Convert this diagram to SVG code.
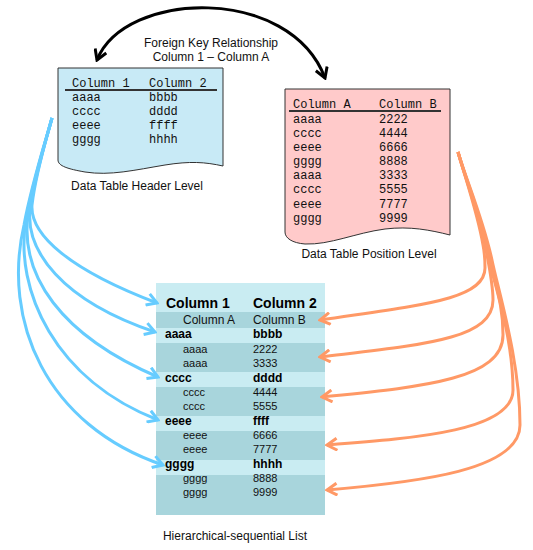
<svg xmlns="http://www.w3.org/2000/svg" width="533" height="550" viewBox="0 0 533 550">
<style>
.mono{font-family:"Liberation Mono","Courier New",monospace;font-size:12px;fill:#111}
.sans{font-family:"Liberation Sans",Arial,sans-serif;font-size:12px;fill:#111}
.hd{font-family:"Liberation Sans",Arial,sans-serif;font-size:14px;font-weight:bold;fill:#000}
.b{font-family:"Liberation Sans",Arial,sans-serif;font-size:12px;font-weight:bold;fill:#000}
.s{font-family:"Liberation Sans",Arial,sans-serif;font-size:11px;fill:#111}
.doc{stroke:#333;stroke-width:1}
.blue{fill:none;stroke:#66CCFF;stroke-width:3;marker-end:url(#mb)}
.orange{fill:none;stroke:#FF9966;stroke-width:3;marker-end:url(#mo)}
.black{fill:none;stroke:#000;stroke-width:3;marker-start:url(#mk);marker-end:url(#mk)}
</style>
<defs>
<marker id="mb" markerUnits="userSpaceOnUse" viewBox="0 0 14 14" refX="12" refY="7" markerWidth="14" markerHeight="14" orient="auto">
<path d="M2,1 L12,7 L2,13" fill="none" stroke="#66CCFF" stroke-width="3"/>
</marker>
<marker id="mo" markerUnits="userSpaceOnUse" viewBox="0 0 14 14" refX="12" refY="7" markerWidth="14" markerHeight="14" orient="auto">
<path d="M2,1 L12,7 L2,13" fill="none" stroke="#FF9966" stroke-width="3"/>
</marker>
<marker id="mk" markerUnits="userSpaceOnUse" viewBox="0 0 14 14" refX="12" refY="7" markerWidth="14" markerHeight="14" orient="auto-start-reverse">
<path d="M2,1 L12,7 L2,13" fill="none" stroke="#000" stroke-width="3"/>
</marker>
</defs>
<rect width="533" height="550" fill="#fff"/>

<g id="header-table">
<path class="doc" fill="#C8EAF6" d="M58,68 L223,68 L223,166 C205,162 190,161 165,165 C135,170 110,176 85,172 C68,169 58,166 58,160 Z"/>
<line x1="65" y1="90" x2="217" y2="90" stroke="#333" stroke-width="2"/>
<text class="mono" x="72" y="87">Column 1</text>
<text class="mono" x="149" y="87">Column 2</text>
<text class="mono" x="72" y="101">aaaa</text><text class="mono" x="149" y="101">bbbb</text>
<text class="mono" x="72" y="115">cccc</text><text class="mono" x="149" y="115">dddd</text>
<text class="mono" x="72" y="129">eeee</text><text class="mono" x="149" y="129">ffff</text>
<text class="mono" x="72" y="143">gggg</text><text class="mono" x="149" y="143">hhhh</text>
<text class="sans" x="137" y="190" text-anchor="middle">Data Table Header Level</text>
</g>

<g id="position-table">
<path class="doc" fill="#FFCACA" d="M285,89 L450,89 L450,235 C430,230 410,226 385,229 C355,233 330,245 305,244 C292,243 285,238 285,232 Z"/>
<line x1="289" y1="111" x2="441" y2="111" stroke="#333" stroke-width="2"/>
<text class="mono" x="293" y="108">Column A</text>
<text class="mono" x="379" y="108">Column B</text>
<text class="mono" x="293" y="123">aaaa</text><text class="mono" x="379" y="123">2222</text>
<text class="mono" x="293" y="137">cccc</text><text class="mono" x="379" y="137">4444</text>
<text class="mono" x="293" y="151">eeee</text><text class="mono" x="379" y="151">6666</text>
<text class="mono" x="293" y="165">gggg</text><text class="mono" x="379" y="165">8888</text>
<text class="mono" x="293" y="179">aaaa</text><text class="mono" x="379" y="179">3333</text>
<text class="mono" x="293" y="193">cccc</text><text class="mono" x="379" y="193">5555</text>
<text class="mono" x="293" y="208">eeee</text><text class="mono" x="379" y="208">7777</text>
<text class="mono" x="293" y="222">gggg</text><text class="mono" x="379" y="222">9999</text>
<text class="sans" x="369" y="258" text-anchor="middle">Data Table Position Level</text>
</g>

<g id="hierarchical-list">
<rect x="156" y="283" width="169" height="232" fill="#C9ECF2"/>
<rect x="156" y="312" width="169" height="16" fill="#A8D5DC"/>
<rect x="156" y="343" width="169" height="29" fill="#A8D5DC"/>
<rect x="156" y="387" width="169" height="29" fill="#A8D5DC"/>
<rect x="156" y="431" width="169" height="29" fill="#A8D5DC"/>
<rect x="156" y="475" width="169" height="40" fill="#A8D5DC"/>
<text class="hd" x="166" y="308">Column 1</text>
<text class="hd" x="253" y="308">Column 2</text>
<text class="sans" x="183" y="324">Column A</text>
<text class="sans" x="253" y="324">Column B</text>
<text class="b" x="165" y="338">aaaa</text><text class="b" x="253" y="338">bbbb</text>
<text class="s" x="183" y="353">aaaa</text><text class="s" x="253" y="353">2222</text>
<text class="s" x="183" y="367">aaaa</text><text class="s" x="253" y="367">3333</text>
<text class="b" x="165" y="382">cccc</text><text class="b" x="253" y="382">dddd</text>
<text class="s" x="183" y="396">cccc</text><text class="s" x="253" y="396">4444</text>
<text class="s" x="183" y="410">cccc</text><text class="s" x="253" y="410">5555</text>
<text class="b" x="165" y="425">eeee</text><text class="b" x="253" y="425">ffff</text>
<text class="s" x="183" y="439">eeee</text><text class="s" x="253" y="439">6666</text>
<text class="s" x="183" y="453">eeee</text><text class="s" x="253" y="453">7777</text>
<text class="b" x="165" y="468">gggg</text><text class="b" x="253" y="468">hhhh</text>
<text class="s" x="183" y="482">gggg</text><text class="s" x="253" y="482">8888</text>
<text class="s" x="183" y="496">gggg</text><text class="s" x="253" y="496">9999</text>
<text class="sans" x="235" y="540" text-anchor="middle">Hierarchical-sequential List</text>
</g>

<g id="connectors">
<path class="black" d="M97,60 C125,-10 290,-15 325,78"/>
<text class="sans" x="211" y="47" text-anchor="middle">Foreign Key Relationship</text>
<text class="sans" x="211" y="61" text-anchor="middle">Column 1 – Column A</text>

<path class="blue" d="M52,118 C46,140 36,172 32,205 C30,235 70,270 157,303"/>
<path class="blue" d="M52,118 C46,140 35,175 30,210 C26,250 60,300 155,332"/>
<path class="blue" d="M52,118 C46,140 34,178 28,215 C20,275 60,335 158,377"/>
<path class="blue" d="M52,118 C46,140 33,180 26,220 C14,290 55,380 158,420"/>
<path class="blue" d="M52,118 C46,140 32,182 24,225 C2,320 45,425 163,465"/>

<path class="orange" d="M458,152 C466,180 478,215 483,245 C485,255 485,262 485,268 C485,300 420,305 320,320"/>
<path class="orange" d="M458,152 C466,180 479,215 486,250 C490,270 493,285 493,300 C493,340 420,345 320,357"/>
<path class="orange" d="M458,152 C466,180 480,215 488,255 C494,285 503,300 503,335 C503,380 420,387 322,397"/>
<path class="orange" d="M458,152 C466,180 481,215 490,258 C496,290 513,340 513,390 C513,430 420,438 327,445"/>
<path class="orange" d="M458,152 C466,180 482,215 492,260 C498,290 520,360 520,425 C520,470 420,482 327,490"/>
</g>
</svg>
